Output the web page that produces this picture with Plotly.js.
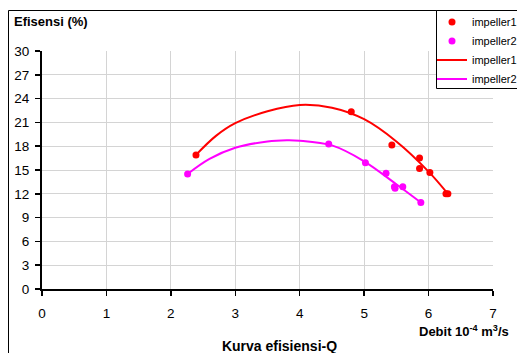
<!DOCTYPE html>
<html>
<head>
<meta charset="utf-8">
<script src="https://cdn.plot.ly/plotly-3.0.1.min.js"></script>
<style>html,body{margin:0;padding:0;background:#fff;}#chart{width:517px;height:353px;}</style>
</head>
<body>
<div id="chart"></div>
<script>
// Measured points
const imp1X = [2.39, 4.80, 5.43, 5.86, 5.86, 6.02, 6.27, 6.30];
const imp1Y = [16.9, 22.35, 18.15, 16.5, 15.2, 14.7, 12.0, 12.0];
const imp2X = [2.26, 4.45, 5.02, 5.34, 5.48, 5.47, 5.60, 5.88];
const imp2Y = [14.5, 18.28, 15.9, 14.6, 12.7, 12.9, 12.9, 10.9];
// Trend curves
const fit1X = [2.39, 2.7, 3.0, 3.5, 4.0, 4.5, 5.0, 5.5, 6.0, 6.30];
const fit1Y = [16.9, 19.3, 20.9, 22.4, 23.2, 22.85, 21.4, 18.6, 14.8, 12.0];
const fit2X = [2.26, 2.6, 3.0, 3.5, 3.8, 4.0, 4.5, 5.0, 5.5, 5.88];
const fit2Y = [14.5, 16.4, 17.8, 18.6, 18.75, 18.7, 18.1, 16.1, 13.2, 10.9];
const seriesNames = ['impeller1', 'impeller2'];
const xTicks = [0, 1, 2, 3, 4, 5, 6, 7];
const yTicks = [0, 3, 6, 9, 12, 15, 18, 21, 24, 27, 30];

const RED = '#ff0000', MAG = '#ff00ff';
const FONT = 'Liberation Sans, Arial, sans-serif';

const traces = [
  {x: imp1X, y: imp1Y, mode: 'markers', name: seriesNames[0], type: 'scatter',
   marker: {color: RED, size: 7}, cliponaxis: false},
  {x: imp2X, y: imp2Y, mode: 'markers', name: seriesNames[1], type: 'scatter',
   marker: {color: MAG, size: 7}, cliponaxis: false},
  {x: fit1X, y: fit1Y, mode: 'lines', name: seriesNames[0], type: 'scatter',
   line: {color: RED, width: 2, shape: 'spline', smoothing: 1}},
  {x: fit2X, y: fit2Y, mode: 'lines', name: seriesNames[1], type: 'scatter',
   line: {color: MAG, width: 2, shape: 'spline', smoothing: 1}}
];

const L = 42, R = 493, T = 51, B = 289;
const pw = R - L, ph = B - T;
const px = v => (v - L) / pw;
const py = v => (B - v) / ph;

const layout = {
  width: 517, height: 353,
  margin: {l: L, r: 517 - R, t: T, b: 353 - B, autoexpand: false},
  paper_bgcolor: '#fff', plot_bgcolor: '#fff',
  font: {family: FONT, size: 13.5, color: '#000'},
  showlegend: true,
  legend: {
    x: px(432), y: py(7.5), xanchor: 'left', yanchor: 'top',
    bgcolor: 'rgba(0,0,0,0)', borderwidth: 0,
    font: {family: FONT, size: 11, color: '#000'},
    tracegroupgap: 0, itemwidth: 30
  },
  title: {text: '<b>Kurva efisiensi-Q</b>', x: 279.5 / 517, y: 1 - 346 / 353,
          xanchor: 'center', yanchor: 'middle', xref: 'container', yref: 'container',
          font: {family: FONT, size: 14, color: '#000'}},
  xaxis: {
    range: [0, 7], tickvals: xTicks, ticktext: xTicks.map(String),
    showgrid: true, gridcolor: '#d4d4d4', gridwidth: 1,
    zeroline: false, showline: true, linecolor: '#000', linewidth: 2,
    ticks: 'outside', ticklen: 5, tickwidth: 1.5, tickcolor: '#000',
    ticklabelstandoff: 6,
    tickfont: {family: FONT, size: 13.5, color: '#000'}, fixedrange: true
  },
  yaxis: {
    range: [0, 30], tickvals: yTicks, ticktext: yTicks.map(String),
    showgrid: true, gridcolor: '#d4d4d4', gridwidth: 1,
    zeroline: false, showline: true, linecolor: '#000', linewidth: 2,
    ticks: 'outside', ticklen: 5, tickwidth: 1.5, tickcolor: '#000',
    ticklabelstandoff: 3,
    tickfont: {family: FONT, size: 13.5, color: '#000'}, fixedrange: true
  },
  annotations: [
    {text: '<b>Efisensi (%)</b>', xref: 'paper', yref: 'paper',
     x: px(12), y: py(21), xanchor: 'left', yanchor: 'middle', showarrow: false,
     font: {family: FONT, size: 13, color: '#000'}},
    {text: '<b>Debit 10<sup>-4</sup> m<sup>3</sup>/s</b>', xref: 'paper', yref: 'paper',
     x: px(511), y: py(331), xanchor: 'right', yanchor: 'middle', showarrow: false,
     font: {family: FONT, size: 13, color: '#000'}}
  ],
  shapes: [
    {type: 'line', xref: 'paper', yref: 'paper', x0: px(8.5), x1: px(8.5), y0: py(10.5), y1: py(360),
     line: {color: '#000', width: 1}, layer: 'above'},
    {type: 'line', xref: 'paper', yref: 'paper', x0: px(8.5), x1: px(520), y0: py(10.5), y1: py(10.5),
     line: {color: '#000', width: 1}, layer: 'above'},
    {type: 'rect', xref: 'paper', yref: 'paper', x0: px(436.5), x1: px(520), y0: py(10.5), y1: py(88.5),
     fillcolor: '#fff', line: {color: '#000', width: 1}, layer: 'above'}
  ]
};

Plotly.newPlot('chart', traces, layout, {displayModeBar: false, staticPlot: true});
</script>
</body>
</html>
